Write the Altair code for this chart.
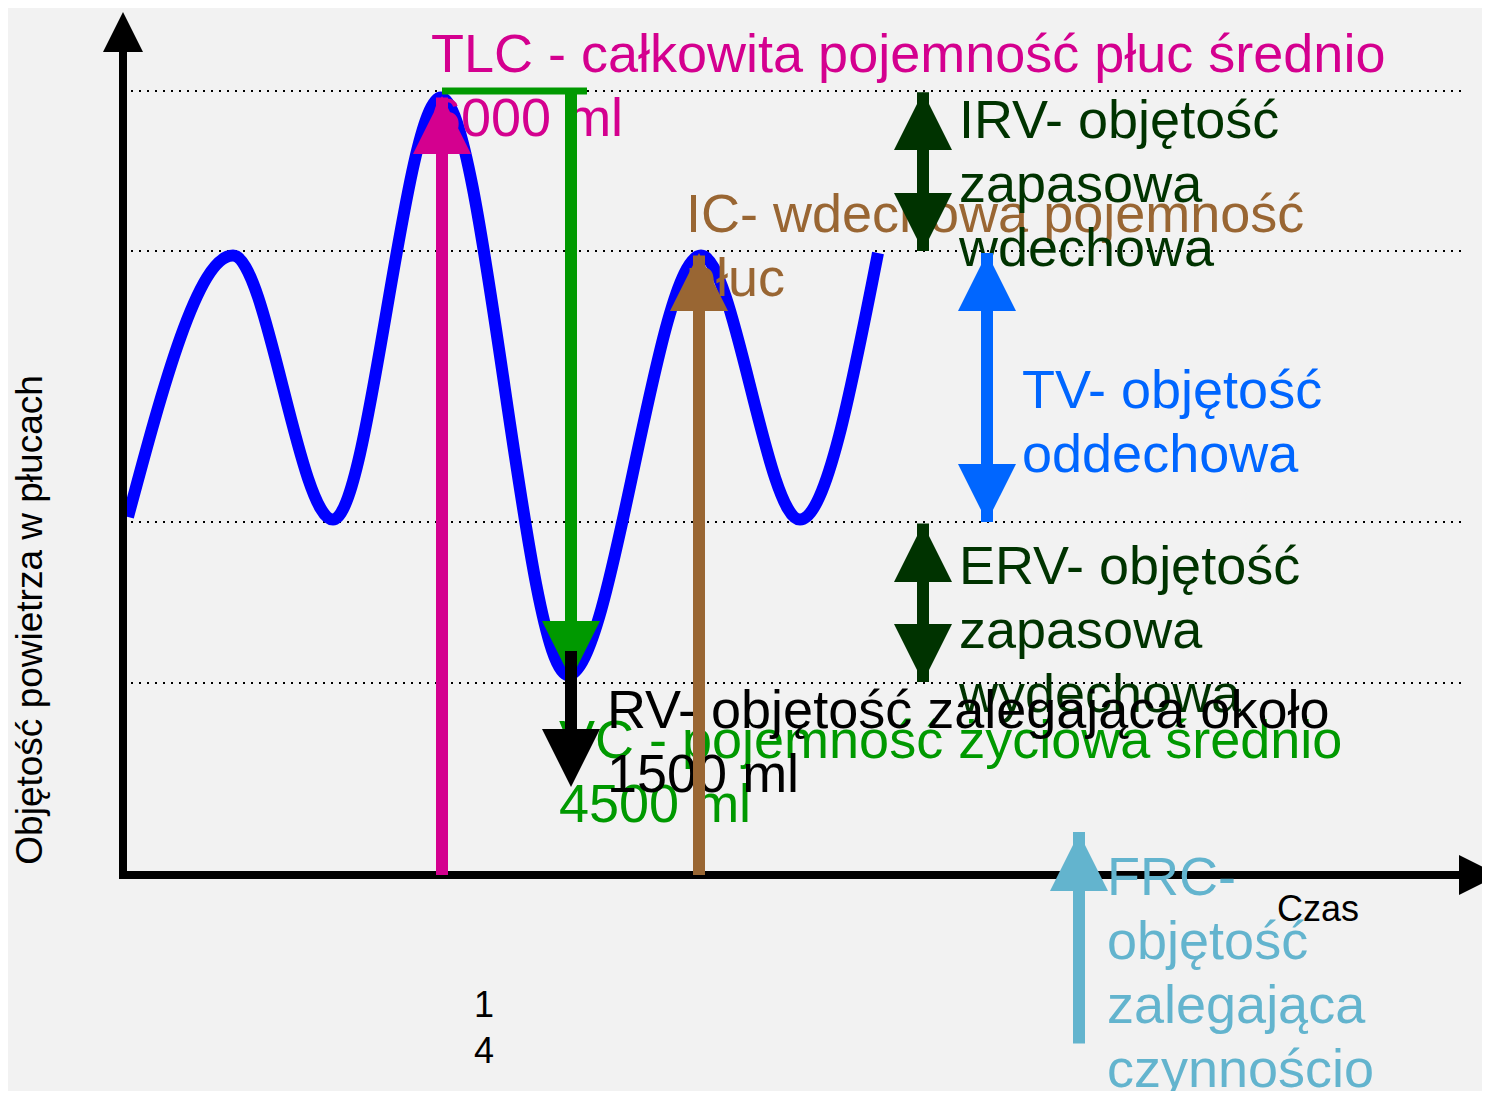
import altair as alt
import pandas as pd

# ---- data (time in arbitrary units, volume in ml) ----
wave_t = [0.05, 1.10, 2.10, 3.18, 4.45, 5.78, 6.77, 7.55]
wave_v = [2740, 4740, 2720, 5950, 1530, 4740, 2720, 4760]

level_v = [6000, 4776, 2702, 1469]
level_t0 = 0.08
level_t1 = 13.39

# arrow shafts: x position, start volume, end volume, colour
shaft_name = ["TLC", "VC", "IC", "IRV", "TV", "ERV", "FRC"]
shaft_t = [3.19, 4.48, 5.76, 8.00, 8.64, 8.00, 9.56]
shaft_v0 = [0, 6000, 0, 5990, 4760, 2690, -1290]
shaft_v1 = [5950, 1700, 4740, 4776, 2702, 1477, 330]
shaft_col = ["#d4008f", "#009900", "#996633", "#003300", "#0066ff", "#003300", "#63b4ce"]

# arrow heads: tip position, direction, colour
head_t = [3.19, 4.48, 5.76, 8.00, 8.00, 8.64, 8.64, 8.00, 8.00, 9.56]
head_v = [5962, 1500, 4760, 5992, 4776, 4760, 2702, 2686, 1477, 321]
head_dir = ["up", "down", "up", "up", "down", "up", "down", "up", "down", "up"]
head_col = ["#d4008f", "#009900", "#996633", "#003300", "#003300",
            "#0066ff", "#0066ff", "#003300", "#003300", "#63b4ce"]

# VC bracket top bar
vc_bar_t = [3.19, 4.64]
vc_bar_v = 6000

# RV arrow
rv_t = 4.48
rv_v0 = 1714
rv_tip = 673

# axes
yaxis_t = 0.0
yaxis_v = [-31, 6400]
yaxis_tip = 6605
xaxis_v = 0
xaxis_t = [-0.04, 13.5]
xaxis_tip = 13.76

# labels
labels = [
    "IC- wdechowa pojemność\npłuc",
    "IRV- objętość\nzapasowa\nwdechowa",
    "TLC - całkowita pojemność płuc średnio\n6000 ml",
    "TV- objętość\noddechowa",
    "ERV- objętość\nzapasowa\nwydechowa",
    "VC - pojemność życiowa średnio\n4500 ml",
    "RV- objętość zalegająca około\n1500 ml",
    "FRC-\nobjętość\nzalegająca\nczynnościo",
]
label_t = [5.63, 8.36, 3.08, 8.99, 8.36, 4.36, 4.84, 9.84]
label_v = [4921, 5640, 6145, 3574, 2224, 895, 1125, -153]
label_col = ["#996633", "#003300", "#d4008f", "#0066ff", "#003300",
             "#009900", "#000000", "#63b4ce"]

x_title = "Czas"
x_title_t, x_title_v = 11.54, -352
y_title = "Objętość powietrza w płucach"
y_title_t, y_title_v = -0.81, 1952
page_num = "1\n4"
page_t, page_v = 3.61, -1087

SHAPES = {"up": "M0,0L1,2L-1,2Z", "down": "M0,0L1,-2L-1,-2Z",
          "right": "M0,0L-2,-1L-2,1Z"}

xs = alt.Scale(domain=[-1.15, 13.59], nice=False, zero=False)
ys = alt.Scale(domain=[-1653, 6635], nice=False, zero=False)
FONT = "Liberation Sans"


def X(f="t"):
    return alt.X(f"{f}:Q", scale=xs, axis=None)


def Y(f="v"):
    return alt.Y(f"{f}:Q", scale=ys, axis=None)


levels = pd.DataFrame({"v": level_v, "t0": level_t0, "t1": level_t1})
dotted = alt.Chart(levels).mark_rule(color="black", strokeWidth=2, strokeDash=[2, 6]).encode(
    x=X("t0"), x2="t1", y=Y())

wave = alt.Chart(pd.DataFrame({"t": wave_t, "v": wave_v})).mark_line(
    color="#0000ff", strokeWidth=12, interpolate="monotone", strokeCap="butt").encode(x=X(), y=Y())

yax = alt.Chart(pd.DataFrame({"t": [yaxis_t], "v0": [yaxis_v[0]], "v1": [yaxis_v[1]]})).mark_rule(
    color="black", strokeWidth=8).encode(x=X(), y=Y("v0"), y2="v1")
xax = alt.Chart(pd.DataFrame({"v": [xaxis_v], "t0": [xaxis_t[0]], "t1": [xaxis_t[1]]})).mark_rule(
    color="black", strokeWidth=8).encode(y=Y(), x=X("t0"), x2="t1")

small_df = pd.DataFrame({"label": [x_title], "t": [x_title_t], "v": [x_title_v]})
czas = alt.Chart(small_df).mark_text(align="left", baseline="alphabetic", font=FONT,
                                      fontSize=36, color="black").encode(x=X(), y=Y(), text="label:N")
ytitle = alt.Chart(pd.DataFrame({"label": [y_title], "t": [y_title_t], "v": [y_title_v]})).mark_text(
    align="center", baseline="alphabetic", font=FONT, fontSize=37, angle=270, color="black").encode(
    x=X(), y=Y(), text="label:N")
pnum = alt.Chart(pd.DataFrame({"label": [page_num], "t": [page_t], "v": [page_v]})).mark_text(
    align="center", baseline="alphabetic", font=FONT, fontSize=36, color="black",
    lineBreak="\n", lineHeight=46).encode(x=X(), y=Y(), text="label:N")

lab_df = pd.DataFrame({"label": labels, "t": label_t, "v": label_v, "col": label_col})
texts = alt.Chart(lab_df).mark_text(align="left", baseline="alphabetic", font=FONT, fontSize=54,
                                     lineBreak="\n", lineHeight=64).encode(
    x=X(), y=Y(), text="label:N", color=alt.Color("col:N", scale=None))

sh_df = pd.DataFrame({"name": shaft_name, "t": shaft_t, "v0": shaft_v0, "v1": shaft_v1, "col": shaft_col})
shafts = alt.Chart(sh_df).mark_rule(strokeWidth=12).encode(
    x=X(), y=Y("v0"), y2="v1", color=alt.Color("col:N", scale=None))
vcbar = alt.Chart(pd.DataFrame({"v": [vc_bar_v], "t0": [vc_bar_t[0]], "t1": [vc_bar_t[1]]})).mark_rule(
    strokeWidth=7, color="#009900").encode(y=Y(), x=X("t0"), x2="t1")

hd_df = pd.DataFrame({"t": head_t, "v": head_v, "shape": [SHAPES[d] for d in head_dir], "col": head_col})
heads = alt.Chart(hd_df).mark_point(filled=True, opacity=1, strokeWidth=0, size=3364).encode(
    x=X(), y=Y(), shape=alt.Shape("shape:N", scale=None), color=alt.Color("col:N", scale=None))

rv_shaft = alt.Chart(pd.DataFrame({"t": [rv_t], "v0": [rv_v0], "v1": [rv_tip + 200]})).mark_rule(
    strokeWidth=12, color="black").encode(x=X(), y=Y("v0"), y2="v1")
rv_head = alt.Chart(pd.DataFrame({"t": [rv_t], "v": [rv_tip], "shape": [SHAPES["down"]]})).mark_point(
    filled=True, opacity=1, strokeWidth=0, size=3364, color="black").encode(
    x=X(), y=Y(), shape=alt.Shape("shape:N", scale=None))

ax_heads = alt.Chart(pd.DataFrame({"t": [yaxis_t, xaxis_tip], "v": [yaxis_tip, xaxis_v],
                                   "shape": [SHAPES["up"], SHAPES["right"]]})).mark_point(
    filled=True, opacity=1, strokeWidth=0, size=1600, color="black").encode(
    x=X(), y=Y(), shape=alt.Shape("shape:N", scale=None))

chart = alt.layer(dotted, wave, yax, xax, czas, ytitle, pnum, texts, vcbar, shafts, heads,
                  rv_shaft, rv_head, ax_heads).properties(
    width=1474, height=1083, padding=0, autosize=alt.AutoSizeParams(type="none"),
    background="#f2f2f2").configure_view(stroke=None)

chart.save("out.html", embed_options={"renderer": "svg", "actions": False})
